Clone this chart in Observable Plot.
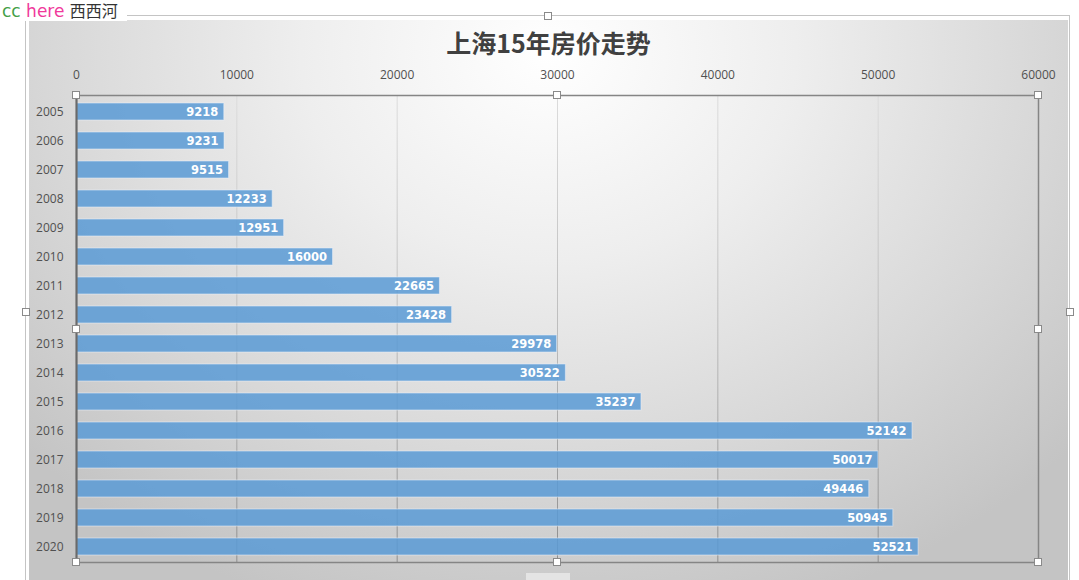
<!DOCTYPE html>
<html>
<head>
<meta charset="utf-8">
<script src="https://cdn.jsdelivr.net/npm/d3@7"></script>
<script src="https://cdn.jsdelivr.net/npm/@observablehq/plot@0.6"></script>
<style>
  html, body { margin: 0; padding: 0; background: #fff; width: 1079px; height: 580px; overflow: hidden; }
  body { position: relative; font-family: "DejaVu Sans", sans-serif; }
  #wm { position: absolute; left: 0; top: 0; width: 125px; height: 21px; background: #fff; font-size: 17px; line-height: 21px; padding-left: 2px; white-space: nowrap; z-index: 5; }
  #wm .c { color: #43a047; }
  #wm .h { color: #f0399b; }
  #wm .x { color: #333; font-family: "Noto Sans CJK SC", sans-serif; font-size: 16px; }
  #outer { position: absolute; left: 25px; top: 15px; width: 1045px; height: 600px; border: 1px solid #c4c4c4; box-sizing: border-box; }
  #panel { position: absolute; left: 29px; top: 20px; width: 1039px; height: 560px;
    background: radial-gradient(ellipse 68% 105% at 50% 6%, #ffffff 0%, #eeeeee 35%, #d8d8d8 70%, #c4c4c4 100%); }
  #title { position: absolute; left: 29px; top: 25px; width: 1039px; text-align: center; font-family: "Noto Sans CJK SC", sans-serif; font-weight: bold; font-size: 25px; line-height: 34px; color: #404040; }
  #chart { position: absolute; left: 29px; top: 60px; }
  .hd { position: absolute; width: 6px; height: 6px; background: #fff; border: 1px solid #8a8a8a; transform: translate(-4px, -4px); z-index: 4; }
  #tab { position: absolute; left: 526px; top: 573px; width: 44px; height: 10px; background: #e4e4e4; }
</style>
</head>
<body>
<div id="outer"></div>
<div id="panel"></div>
<div id="wm"><span class="c">cc</span> <span class="h">here</span> <span class="x">西西河</span></div>
<div id="title">上海15年房价走势</div>
<div id="chart"></div>
<div id="tab"></div>
<script>
const years = ["2005","2006","2007","2008","2009","2010","2011","2012","2013","2014","2015","2016","2017","2018","2019","2020"];
const prices = [9218, 9231, 9515, 12233, 12951, 16000, 22665, 23428, 29978, 30522, 35237, 52142, 50017, 49446, 50945, 52521];
const xTicks = [0, 10000, 20000, 30000, 40000, 50000, 60000];
const gridTicks = [10000, 20000, 30000, 40000, 50000];

const data = years.map((y, i) => ({year: y, price: prices[i]}));

const W = 1039, H = 520;
const M = {top: 35, right: 30, bottom: 18, left: 47};

const plot = Plot.plot({
  width: W,
  height: H,
  marginTop: M.top,
  marginRight: M.right,
  marginBottom: M.bottom,
  marginLeft: M.left,
  style: {background: "transparent", fontFamily: "'Open Sans', sans-serif", fontSize: "12px", color: "#505050", overflow: "visible"},
  x: {domain: [0, 60000], axis: "top", ticks: xTicks, tickFormat: d3.format("d"), tickSize: 0, tickPadding: 17, label: null},
  y: {domain: years, paddingInner: 0.42, paddingOuter: 0.21, tickSize: 0, tickPadding: 13, label: null},
  marks: [
    Plot.gridX(gridTicks, {stroke: "url(#gridgrad)", strokeOpacity: 1, strokeWidth: 1}),
    Plot.barX(data, {x: "price", y: "year", fill: "#5b9bd5", fillOpacity: 0.86, stroke: "#eaf1f9", strokeOpacity: 0.55, strokeWidth: 1}),
    Plot.frame({stroke: "#858585", strokeWidth: 1.5}),
    Plot.ruleX([0], {stroke: "#6a6a6a", strokeWidth: 2}),
    Plot.text(data, {x: "price", y: "year", text: d => String(d.price), textAnchor: "end", dx: -6, fill: "white", fontWeight: "bold", fontSize: 11.5, fontFamily: "DejaVu Sans, sans-serif"})
  ]
});

// gradient for gridlines (lighter at top, darker toward bottom)
const ns = "http://www.w3.org/2000/svg";
const defs = document.createElementNS(ns, "defs");
const lg = document.createElementNS(ns, "linearGradient");
lg.setAttribute("id", "gridgrad");
lg.setAttribute("gradientUnits", "userSpaceOnUse");
lg.setAttribute("x1", 0); lg.setAttribute("x2", 0);
lg.setAttribute("y1", M.top); lg.setAttribute("y2", H - M.bottom);
[["0%", "#dcdcdc"], ["50%", "#bdbdbd"], ["100%", "#8e8e8e"]].forEach(([o, c]) => {
  const s = document.createElementNS(ns, "stop");
  s.setAttribute("offset", o); s.setAttribute("stop-color", c);
  lg.appendChild(s);
});
defs.appendChild(lg);
plot.insertBefore(defs, plot.firstChild);

document.getElementById("chart").appendChild(plot);

// selection handles (decorative), placed from the plot's frame geometry
const left0 = 29, top0 = 60;
const x0 = left0 + M.left, x1 = left0 + W - M.right, xm = (x0 + x1) / 2;
const y0 = top0 + M.top, y1 = top0 + H - M.bottom, ym = (y0 + y1) / 2;
const handles = [[x0,y0],[xm,y0],[x1,y0],[x0,ym],[x1,ym],[x0,y1],[xm,y1],[x1,y1],[548,16],[26,312],[1070,312]];
handles.forEach(([hx, hy]) => {
  const d = document.createElement("div");
  d.className = "hd";
  d.style.left = hx + "px"; d.style.top = hy + "px";
  document.body.appendChild(d);
});
</script>
</body>
</html>
